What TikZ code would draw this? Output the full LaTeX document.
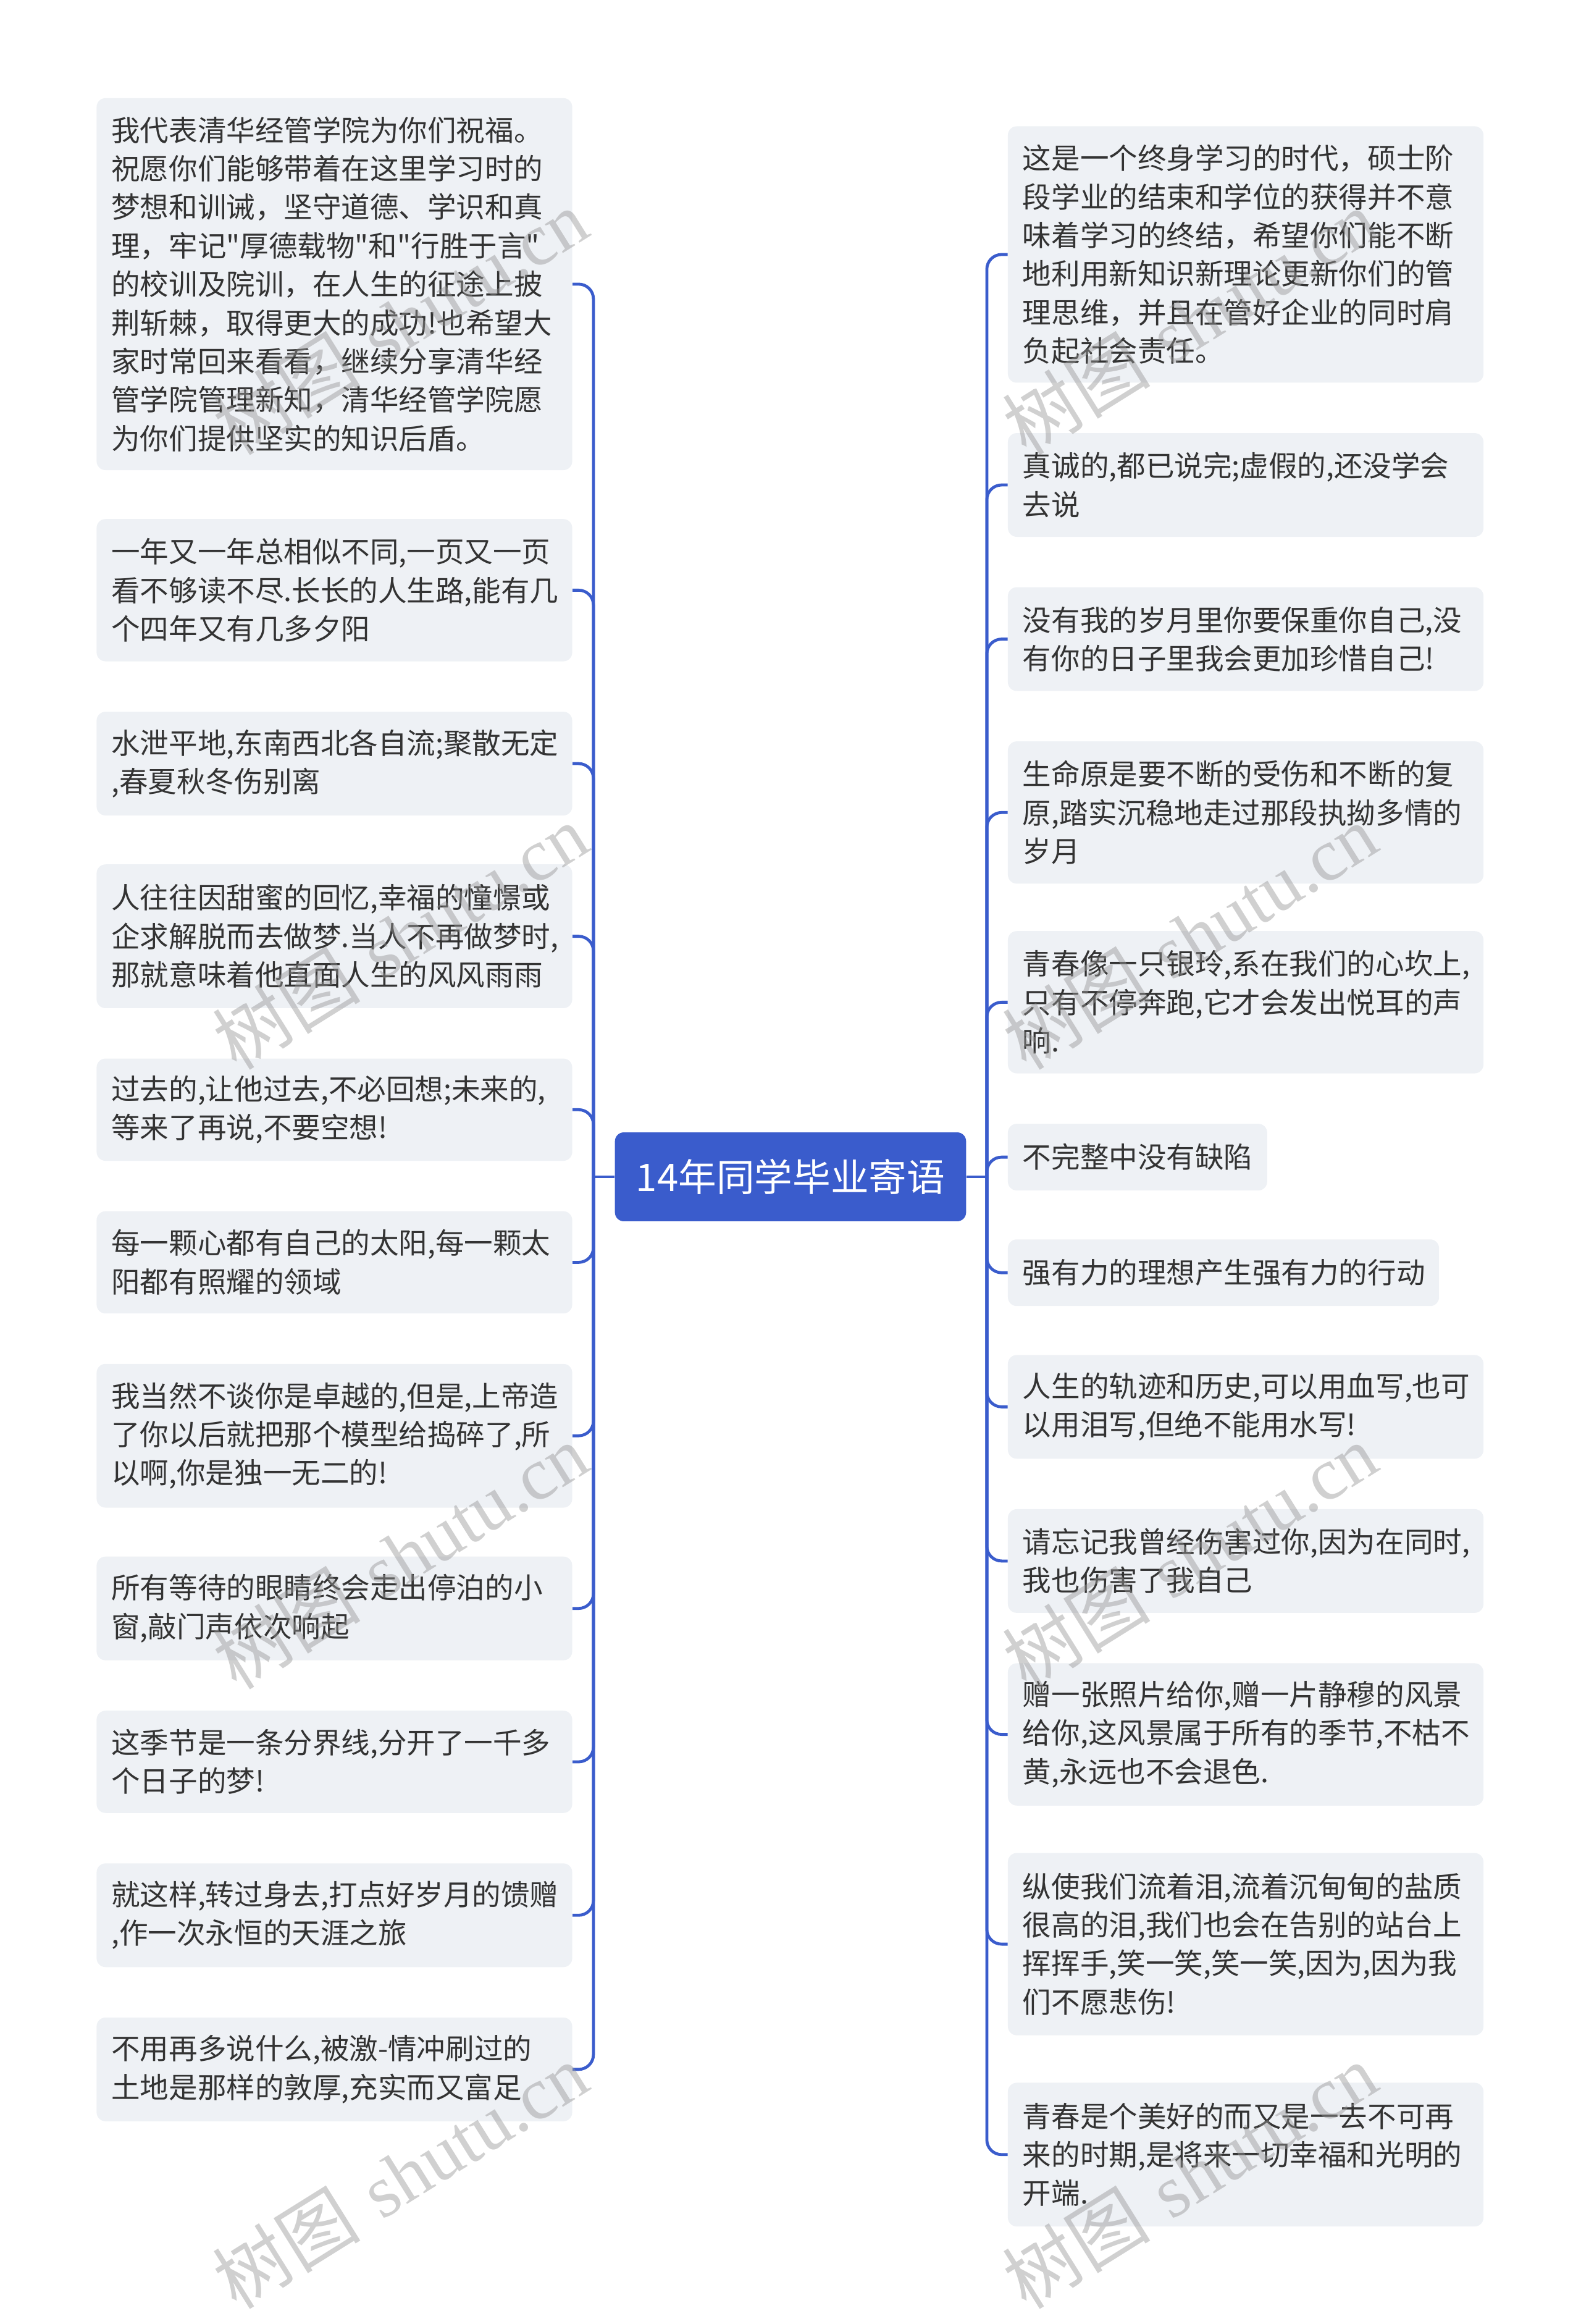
\documentclass[tikz,border=0pt]{standalone}
\usepackage{fontspec}
\newfontfamily\cjk{Noto Sans CJK SC}
\newfontfamily\wmserif{Liberation Serif}
\definecolor{mainblue}{RGB}{58,92,204}
\definecolor{boxfill}{RGB}{238,241,245}
\definecolor{textc}{RGB}{51,51,51}
\definecolor{wmgray}{RGB}{150,150,150}
\tikzset{
  box/.style={fill=boxfill, rounded corners=6pt, anchor=north west, inner xsep=10pt, inner ysep=0pt,
    align=left, text=textc, font=\cjk\fontsize{19.4}{26}\selectfont},
  rootbox/.style={fill=mainblue, rounded corners=6pt, inner sep=0pt, minimum width=237pt, minimum height=60pt,
    text=white, font=\cjk\fontsize{25.7}{30}\selectfont},
  conn/.style={draw=mainblue, line width=2pt},
  branch/.style={conn, rounded corners=10pt},
  wmark/.style={rotate=32, text=wmgray, opacity=0.45, inner sep=0pt}
}
\begin{document}
\begin{tikzpicture}[x=1pt,y=-1pt]
\useasboundingbox (0,0) rectangle (1067,1568);

% root
\node[rootbox] (root) at (533.5,794) {14年同学毕业寄语};
\coordinate (lbus) at (400.5,794);
\coordinate (rbus) at (666,794);

% left boxes
\node[box, text width=301pt, minimum height=251pt] (L1) at (65,66) {我代表清华经管学院为你们祝福。\\祝愿你们能够带着在这里学习时的\\梦想和训诫，坚守道德、学识和真\\理，牢记"厚德载物"和"行胜于言"\\的校训及院训，在人生的征途上披\\荆斩棘，取得更大的成功!也希望大\\家时常回来看看，继续分享清华经\\管学院管理新知，清华经管学院愿\\为你们提供坚实的知识后盾。};
\node[box, text width=301pt, minimum height=96pt] (L2) at (65,350) {一年又一年总相似不同,一页又一页\\看不够读不尽.长长的人生路,能有几\\个四年又有几多夕阳};
\node[box, text width=301pt, minimum height=70pt] (L3) at (65,480) {水泄平地,东南西北各自流;聚散无定\\,春夏秋冬伤别离};
\node[box, text width=301pt, minimum height=97pt] (L4) at (65,583) {人往往因甜蜜的回忆,幸福的憧憬或\\企求解脱而去做梦.当人不再做梦时,\\那就意味着他直面人生的风风雨雨};
\node[box, text width=301pt, minimum height=69pt] (L5) at (65,714) {过去的,让他过去,不必回想;未来的,\\等来了再说,不要空想!};
\node[box, text width=301pt, minimum height=69pt] (L6) at (65,817) {每一颗心都有自己的太阳,每一颗太\\阳都有照耀的领域};
\node[box, text width=301pt, minimum height=97pt] (L7) at (65,920) {我当然不谈你是卓越的,但是,上帝造\\了你以后就把那个模型给捣碎了,所\\以啊,你是独一无二的!};
\node[box, text width=301pt, minimum height=70pt] (L8) at (65,1050) {所有等待的眼睛终会走出停泊的小\\窗,敲门声依次响起};
\node[box, text width=301pt, minimum height=69pt] (L9) at (65,1154) {这季节是一条分界线,分开了一千多\\个日子的梦!};
\node[box, text width=301pt, minimum height=70pt] (L10) at (65,1257) {就这样,转过身去,打点好岁月的馈赠\\,作一次永恒的天涯之旅};
\node[box, text width=301pt, minimum height=70pt] (L11) at (65,1361) {不用再多说什么,被激-情冲刷过的\\土地是那样的敦厚,充实而又富足};

% right boxes
\node[box, text width=301pt, minimum height=173pt] (R1) at (680,85) {这是一个终身学习的时代，硕士阶\\段学业的结束和学位的获得并不意\\味着学习的终结，希望你们能不断\\地利用新知识新理论更新你们的管\\理思维，并且在管好企业的同时肩\\负起社会责任。};
\node[box, text width=301pt, minimum height=70pt] (R2) at (680,292) {真诚的,都已说完;虚假的,还没学会\\去说};
\node[box, text width=301pt, minimum height=70pt] (R3) at (680,396) {没有我的岁月里你要保重你自己,没\\有你的日子里我会更加珍惜自己!};
\node[box, text width=301pt, minimum height=96pt] (R4) at (680,500) {生命原是要不断的受伤和不断的复\\原,踏实沉稳地走过那段执拗多情的\\岁月};
\node[box, text width=301pt, minimum height=96pt] (R5) at (680,628) {青春像一只银玲,系在我们的心坎上,\\只有不停奔跑,它才会发出悦耳的声\\响.};
\node[box, text width=155pt, minimum height=45pt] (R6) at (680,758) {不完整中没有缺陷};
\node[box, text width=271pt, minimum height=45pt] (R7) at (680,836) {强有力的理想产生强有力的行动};
\node[box, text width=301pt, minimum height=70pt] (R8) at (680,914) {人生的轨迹和历史,可以用血写,也可\\以用泪写,但绝不能用水写!};
\node[box, text width=301pt, minimum height=70pt] (R9) at (680,1018) {请忘记我曾经伤害过你,因为在同时,\\我也伤害了我自己};
\node[box, text width=301pt, minimum height=96pt] (R10) at (680,1122) {赠一张照片给你,赠一片静穆的风景\\给你,这风景属于所有的季节,不枯不\\黄,永远也不会退色.};
\node[box, text width=301pt, minimum height=123pt] (R11) at (680,1250) {纵使我们流着泪,流着沉甸甸的盐质\\很高的泪,我们也会在告别的站台上\\挥挥手,笑一笑,笑一笑,因为,因为我\\们不愿悲伤!};
\node[box, text width=301pt, minimum height=97pt] (R12) at (680,1405) {青春是个美好的而又是一去不可再\\来的时期,是将来一切幸福和光明的\\开端.};

% connectors
\draw[conn] (root.west) -- (lbus);
\draw[conn] (root.east) -- (rbus);
\foreach \n in {L1,L2,L3,L4,L5,L6,L7,L8,L9,L10,L11}
  \draw[branch] (lbus) |- (\n.east);
\foreach \n in {R1,R2,R3,R4,R5,R6,R7,R8,R9,R10,R11,R12}
  \draw[branch] (rbus) |- (\n.west);

% watermarks
\foreach \wx in {270,803}
  \foreach \wy in {217,632,1050,1468}
    \node[wmark, font=\fontsize{50}{50}\selectfont] (wm-\wx-\wy) at (\wx,\wy) {{\cjk 树图} {\wmserif shutu.cn}};
\end{tikzpicture}
\end{document}
